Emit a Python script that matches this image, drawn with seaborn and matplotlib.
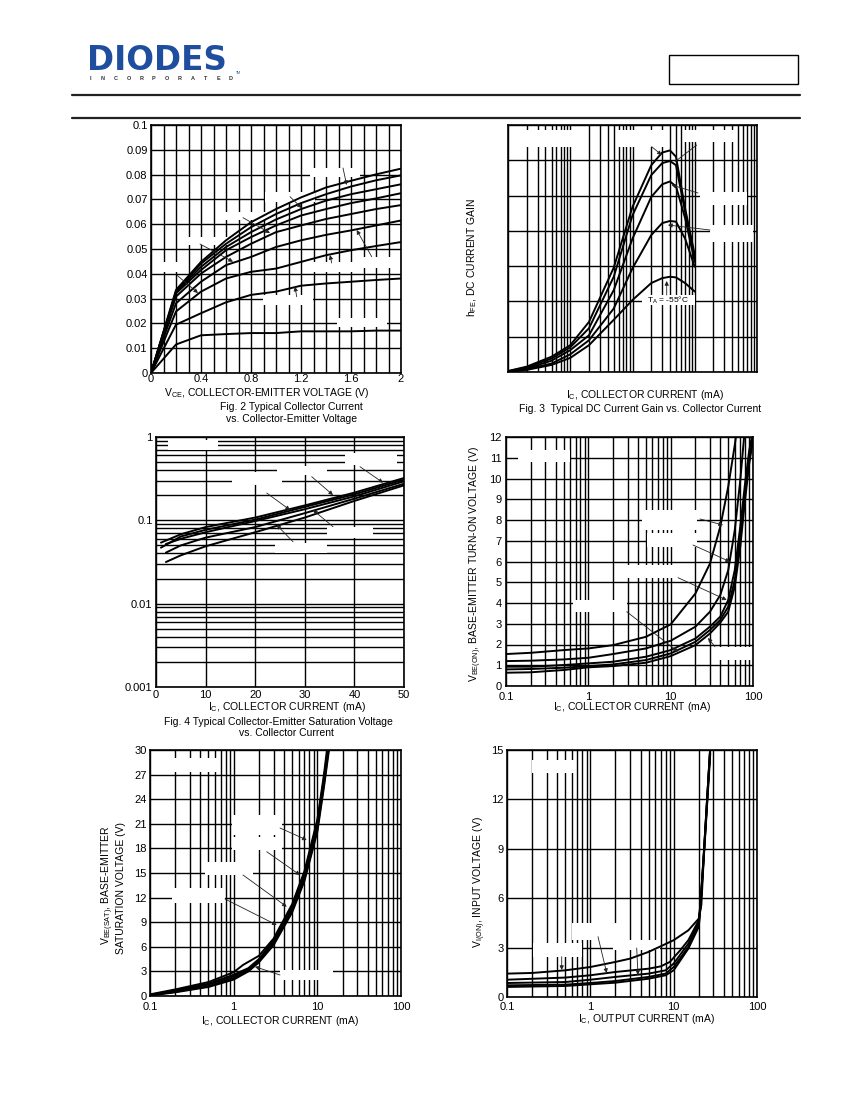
import numpy as np
import pandas as pd
import matplotlib
matplotlib.use("Agg")
import matplotlib.pyplot as plt
from matplotlib.patches import Rectangle
from matplotlib.lines import Line2D
from matplotlib.ticker import MultipleLocator, FixedLocator, NullFormatter
import seaborn as sns

# ---------------- data ----------------
# Fig. 2  Ic (A) vs Vce (V)
vce_fig2 = [0, 0.2, 0.4, 0.6, 0.8, 1.0, 1.2, 1.4, 1.6, 1.8, 2.0]
ic_fig2 = [
    [0, 0.0335, 0.0448, 0.0535, 0.0608, 0.0661, 0.0708, 0.0748, 0.0775, 0.0801, 0.0824],
    [0, 0.0328, 0.0441, 0.0521, 0.0588, 0.0641, 0.0685, 0.0721, 0.0752, 0.0777, 0.0797],
    [0, 0.0325, 0.0428, 0.0508, 0.0568, 0.0619, 0.0661, 0.0695, 0.0721, 0.0741, 0.0761],
    [0, 0.0321, 0.0415, 0.0495, 0.0548, 0.0595, 0.0635, 0.0661, 0.0685, 0.0704, 0.0725],
    [0, 0.0308, 0.0401, 0.0468, 0.0521, 0.0568, 0.0595, 0.0621, 0.0641, 0.0661, 0.0677],
    [0, 0.0281, 0.0368, 0.0435, 0.0468, 0.0508, 0.0535, 0.0557, 0.0575, 0.0595, 0.0615],
    [0, 0.0248, 0.0328, 0.0381, 0.0408, 0.0421, 0.0448, 0.0475, 0.0495, 0.0512, 0.0528],
    [0, 0.0195, 0.0241, 0.0285, 0.0315, 0.0328, 0.0352, 0.0361, 0.0368, 0.0375, 0.0381],
    [0, 0.0115, 0.0152, 0.0157, 0.0161, 0.0161, 0.0168, 0.0168, 0.0168, 0.0171, 0.0171],
]
ic_fig2_ticks = [0, 0.01, 0.02, 0.03, 0.04, 0.05, 0.06, 0.07, 0.08, 0.09, 0.1]
ic_fig2_labels = ["0", "0.01", "0.02", "0.03", "0.04", "0.05", "0.06",
                  "0.07", "0.08", "0.09", "0.1"]
vce_fig2_ticks = [0, 0.4, 0.8, 1.2, 1.6, 2.0]
vce_fig2_labels = ["0", "0.4", "0.8", "1.2", "1.6", "2"]

# Fig. 3  hFE vs Ic (mA)
ic_fig3 = [0.1, 0.2, 0.5, 1, 2, 5, 10, 20, 30, 40, 50, 70, 100]
hfe_fig3 = [
    [1.4, 7.6, 21.7, 38, 71, 148, 234, 293, 311, 314, 305, 232, 166],
    [1.0, 6.6, 19, 35, 62, 135, 222, 279, 296, 299, 293, 227, 161],
    [0.5, 5, 16, 31, 52, 116, 189, 248, 266, 270, 263, 218, 156],
    [0.5, 4, 12, 25, 45, 90, 147, 194, 211, 214, 213, 189, 149],
    [0, 3, 10, 20, 38, 74, 102, 126, 133, 135, 134, 126, 114],
]

# Fig. 4  Vce(sat) (V) vs Ic (mA)
ic_fig4 = [
    [1, 5, 10, 20, 30, 40, 50],
    [1, 5, 10, 20, 30, 40, 50],
    [2, 5, 10, 20, 30, 40, 50],
    [2, 5, 10, 20, 30, 40, 50],
    [2, 5, 10, 20, 30, 40, 50],
]
vsat_fig4 = [
    [0.054, 0.068, 0.083, 0.108, 0.151, 0.215, 0.322],
    [0.047, 0.064, 0.077, 0.102, 0.145, 0.205, 0.308],
    [0.052, 0.060, 0.072, 0.098, 0.136, 0.194, 0.294],
    [0.041, 0.050, 0.062, 0.083, 0.122, 0.182, 0.275],
    [0.0316, 0.038, 0.0488, 0.072, 0.108, 0.171, 0.263],
]

# Fig. 5  Vbe(on) (V) vs Ic (mA)
ic_fig5 = [
    [0.1, 0.2, 0.5, 1, 2, 5, 10, 20, 30, 40, 50, 60, 66],
    [0.1, 0.2, 0.5, 1, 2, 5, 10, 20, 30, 40, 50, 60, 70, 80],
    [0.1, 0.2, 0.5, 1, 2, 5, 10, 20, 30, 40, 50, 60, 70, 80, 90, 100],
    [0.1, 0.2, 0.5, 1, 2, 5, 10, 20, 30, 40, 50, 60, 70, 80, 90, 100],
    [0.1, 0.2, 0.5, 1, 2, 5, 10, 20, 30, 40, 50, 60, 70, 80, 90, 100],
]
vbe_fig5 = [
    [1.54, 1.6, 1.73, 1.81, 1.97, 2.37, 2.97, 4.46, 5.9, 7.67, 9.6, 11.6, 12.8],
    [1.2, 1.22, 1.28, 1.36, 1.54, 1.81, 2.18, 2.86, 3.58, 4.38, 5.58, 7.5, 9.9, 12.5],
    [0.93, 0.93, 1.01, 1.09, 1.17, 1.41, 1.73, 2.29, 2.86, 3.34, 4.14, 5.58, 7.67, 9.75, 11.36, 12.3],
    [0.8, 0.82, 0.88, 0.96, 1.04, 1.25, 1.57, 2.13, 2.7, 3.18, 3.82, 5.1, 7.19, 9.27, 10.88, 12.0],
    [0.64, 0.66, 0.77, 0.9, 0.96, 1.12, 1.44, 1.97, 2.53, 3.05, 3.58, 4.78, 6.7, 8.95, 10.72, 11.84],
]

# Fig. 6  Vbe(sat) (V) vs Ic (mA)
ic_fig6 = [
    [0.1, 0.2, 0.5, 1, 1.3, 2, 3, 5, 7, 10, 12, 13.2],
    [0.1, 0.2, 0.5, 1, 1.5, 2, 3, 5, 7, 10, 12, 13.5],
    [0.1, 0.2, 0.5, 1, 1.5, 2, 3, 5, 7, 10, 12, 13.6],
    [0.1, 0.2, 0.5, 1, 1.5, 2, 3, 5, 7, 10, 12, 13.8],
    [0.1, 0.2, 0.5, 1, 1.5, 2, 3, 5, 7, 10, 12, 14],
]
vsat_fig6 = [
    [0.2, 0.8, 1.7, 2.9, 3.8, 4.9, 7.0, 11.2, 15.2, 21.5, 27.0, 30.5],
    [0.15, 0.7, 1.5, 2.6, 3.4, 4.5, 6.8, 11.0, 14.9, 21.2, 26.6, 30.5],
    [0.1, 0.6, 1.4, 2.4, 3.3, 4.3, 6.6, 10.7, 14.5, 20.8, 26.2, 30.5],
    [0.1, 0.5, 1.2, 2.2, 3.1, 4.2, 6.4, 10.4, 14.2, 20.4, 25.8, 30.5],
    [0.05, 0.45, 1.1, 2.0, 3.0, 4.1, 6.2, 10.2, 14.0, 20.0, 25.5, 30.5],
]

# Fig. 7  Vi(on) (V) vs Io (mA)
ic_fig7 = [
    [0.1, 0.2, 0.5, 1, 2, 3, 5, 7, 10, 15, 20, 21.5, 23.5, 27.5],
    [0.1, 0.5, 1, 2, 5, 7, 9, 12, 15, 20, 21, 23.5, 27.5],
    [0.1, 0.5, 1, 2, 5, 8, 10, 15, 20, 21, 23.5, 27.5],
    [0.1, 0.5, 1, 2, 5, 8, 10, 15, 20, 21, 23.5, 27.5],
    [0.1, 0.5, 1, 2, 5, 8, 10, 15, 20, 21, 23.5, 27.5],
]
vin_fig7 = [
    [1.42, 1.46, 1.62, 1.82, 2.13, 2.33, 2.74, 3.08, 3.45, 4.05, 4.76, 5.6, 9.5, 15.2],
    [1.05, 1.18, 1.32, 1.52, 1.72, 1.86, 2.13, 2.84, 3.45, 4.66, 5.68, 9.5, 15.2],
    [0.85, 0.91, 1.05, 1.22, 1.42, 1.62, 2.03, 3.24, 4.56, 5.68, 9.4, 15.2],
    [0.71, 0.75, 0.85, 0.97, 1.22, 1.42, 1.82, 3.04, 4.36, 5.57, 9.3, 15.0],
    [0.61, 0.67, 0.77, 0.87, 1.11, 1.32, 1.62, 2.94, 4.26, 5.47, 9.2, 14.8],
]

log_ticks = [0.1, 1, 10, 100]
log_labels = ["0.1", "1", "10", "100"]

# ---------------- page layout (pixels on the 850x1100 page) ----------------
W, H = 850, 1100
BLUE = "#1f4e9e"


def fpos(x, y):
    return x / W, 1 - y / H


def to_long(xs_list, ys_list):
    rows = []
    for k, (xs, ys) in enumerate(zip(xs_list, ys_list)):
        for x, y in zip(xs, ys):
            rows.append((k, x, y))
    return pd.DataFrame(rows, columns=["curve", "x", "y"])


sns.set_theme(style="white")
plt.rcParams["font.family"] = ["Liberation Sans", "DejaVu Sans"]
plt.rcParams["mathtext.fontset"] = "custom"
plt.rcParams["mathtext.rm"] = "Liberation Sans"
plt.rcParams["mathtext.it"] = "Liberation Sans:italic"
plt.rcParams["mathtext.bf"] = "Liberation Sans:bold"

fig = plt.figure(figsize=(8.5, 11), dpi=100)
fig.patch.set_facecolor("white")


def panel(box):
    x0, y0, x1, y1 = box
    return fig.add_axes([x0 / W, 1 - y1 / H, (x1 - x0) / W, (y1 - y0) / H])


def style(ax, xpad=1.5, ypad=2.5):
    ax.set_facecolor("white")
    ax.tick_params(which="both", length=0, labelsize=8, colors="black")
    ax.tick_params(axis="x", pad=xpad)
    ax.tick_params(axis="y", pad=ypad)
    for s in ax.spines.values():
        s.set_color("black")
        s.set_linewidth(1.2)
    ax.grid(True, which="both", color="black", linewidth=1.0)
    ax.set_axisbelow(True)
    ax.set_xlabel("")
    ax.set_ylabel("")


def draw(ax, xs_list, ys_list):
    sns.lineplot(data=to_long(xs_list, ys_list), x="x", y="y", units="curve",
                 estimator=None, sort=False, color="black", linewidth=1.4, ax=ax)


def masks(ax, boxes):
    for x0, y0, x1, y1 in boxes:
        fx, fy = fpos(x0, y1)
        ax.add_patch(Rectangle((fx, fy), (x1 - x0) / W, (y1 - y0) / H,
                               transform=fig.transFigure, facecolor="white",
                               edgecolor="none", zorder=1.5))


def arrows(ax, segs, head=True):
    for x0, y0, x1, y1 in segs:
        ax.annotate("", xy=fpos(x1, y1), xytext=fpos(x0, y0),
                    xycoords="figure fraction", textcoords="figure fraction",
                    arrowprops=dict(arrowstyle="-|>" if head else "-", lw=0.6,
                                    color="#222222", mutation_scale=6,
                                    shrinkA=0, shrinkB=0),
                    annotation_clip=False)


def ftext(x, y, s, **kw):
    kw.setdefault("fontsize", 7.5)
    kw.setdefault("ha", "center")
    kw.setdefault("va", "center")
    fig.text(x / W, 1 - y / H, s, color="black", **kw)


def log_x(ax):
    ax.set_xscale("log")
    ax.set_xlim(0.1, 100)
    ax.xaxis.set_major_locator(FixedLocator(log_ticks))
    ax.set_xticklabels(log_labels)
    ax.xaxis.set_minor_formatter(NullFormatter())


# ---------------- header ----------------
fig.text(87 / W, 1 - 70 / H, "DIODES", fontsize=23.5, fontweight="bold",
         family="DejaVu Sans", color=BLUE, ha="left", va="baseline")
fig.add_artist(Line2D([92 / W, 168 / W], [1 - 58 / H] * 2, color="white", lw=1.0))
for i, ch in enumerate("INCORPORATED"):
    fig.text((90 + i * 12.8) / W, 1 - 79 / H, ch, fontsize=4, fontweight="bold",
             color="#333333", ha="center", va="center")
fig.text(238 / W, 1 - 74 / H, "TM", fontsize=2.5, color=BLUE, ha="center")
fig.add_artist(Rectangle(fpos(669, 84), 129 / W, 29 / H, transform=fig.transFigure,
                         facecolor="none", edgecolor="black", lw=1.0))
for yy in (94.5, 117.5):
    fig.add_artist(Line2D([72 / W, 800 / W], [1 - yy / H] * 2, color="#222222", lw=1.6))

# ---------------- Fig. 2 ----------------
ax2 = panel((151, 125, 401, 373))
draw(ax2, [vce_fig2] * len(ic_fig2), ic_fig2)
ax2.set_xlim(0, 2)
ax2.set_ylim(0, 0.1)
ax2.xaxis.set_major_locator(FixedLocator(vce_fig2_ticks))
ax2.set_xticklabels(vce_fig2_labels)
ax2.xaxis.set_minor_locator(MultipleLocator(0.1))
ax2.yaxis.set_major_locator(FixedLocator(ic_fig2_ticks))
ax2.set_yticklabels(ic_fig2_labels)
style(ax2, xpad=1.0)
masks(ax2, [(310, 168, 360, 177), (265, 192, 315, 202), (217, 212, 267, 220),
            (178, 237, 228, 245), (161, 262, 178, 272), (263, 295, 313, 305),
            (308, 262, 357, 272), (353, 257, 400, 268), (337, 318, 387, 327)])
arrows(ax2, [(343, 168, 346.7, 185), (290, 196.7, 301.7, 208), (243, 217.7, 270, 233),
             (200, 244, 233, 261.7), (176.7, 275, 198, 293), (296.7, 296.7, 295, 286.7),
             (331.7, 263, 330, 255), (371.7, 256.7, 356.7, 230)])
ftext(267, 393, r"V$_{\mathrm{CE}}$, COLLECTOR-EMITTER VOLTAGE (V)")
ftext(291, 407.5, "Fig. 2 Typical Collector Current")
ftext(292, 419, "vs. Collector-Emitter Voltage")

# ---------------- Fig. 3 ----------------
ax3 = panel((508, 125, 757, 372))
draw(ax3, [ic_fig3] * len(hfe_fig3), hfe_fig3)
ax3.set_xscale("log")
ax3.set_xlim(0.1, 1000)
ax3.set_ylim(0, 350)
ax3.yaxis.set_major_locator(MultipleLocator(50))
ax3.xaxis.set_major_formatter(NullFormatter())
ax3.xaxis.set_minor_formatter(NullFormatter())
ax3.yaxis.set_major_formatter(NullFormatter())
style(ax3)
masks(ax3, [(510, 130, 573, 147), (617, 130, 667, 147), (683, 130, 737, 142),
            (700, 192, 747, 205), (710, 225, 753, 242), (642, 295, 695, 305)])
arrows(ax3, [(651.7, 146.7, 661.7, 155), (698, 193, 671.7, 185),
             (710, 230, 668, 225), (666.7, 295, 666.7, 281)])
arrows(ax3, [(696.7, 145, 675, 161.7)], head=False)
ftext(668, 300, r"T$_{\mathrm{A}}$ = -55°C", fontsize=6, zorder=5)
ftext(645, 395, r"I$_{\mathrm{C}}$, COLLECTOR CURRENT (mA)")
ftext(640, 408.5, "Fig. 3  Typical DC Current Gain vs. Collector Current")
ftext(472, 257, r"h$_{\mathrm{FE}}$, DC CURRENT GAIN", rotation=90)

# ---------------- Fig. 4 ----------------
ax4 = panel((156, 437, 404, 687))
draw(ax4, ic_fig4, vsat_fig4)
ax4.set_yscale("log")
ax4.set_xlim(0, 50)
ax4.set_ylim(0.001, 1)
ax4.xaxis.set_major_locator(MultipleLocator(10))
ax4.yaxis.set_major_locator(FixedLocator([0.001, 0.01, 0.1, 1]))
ax4.set_yticklabels(["0.001", "0.01", "0.1", "1"])
ax4.yaxis.set_minor_formatter(NullFormatter())
style(ax4, xpad=2.5)
masks(ax4, [(168, 440, 218, 450), (232, 472, 282, 485), (277, 466, 327, 475),
            (345, 453, 397, 465), (275, 543, 327, 553), (327, 527, 373, 538)])
arrows(ax4, [(266.7, 493, 290, 510), (311.7, 476.7, 333, 495), (360, 466.7, 383, 482.7),
             (293, 541.7, 276.7, 525), (333, 526.7, 313, 510)])
ftext(287, 707.5, r"I$_{\mathrm{C}}$, COLLECTOR CURRENT (mA)")
ftext(278, 722, "Fig. 4 Typical Collector-Emitter Saturation Voltage")
ftext(286, 733.5, "vs. Collector Current")

# ---------------- Fig. 5 ----------------
ax5 = panel((506, 437, 753, 686))
draw(ax5, ic_fig5, vbe_fig5)
log_x(ax5)
ax5.set_ylim(0, 12)
ax5.yaxis.set_major_locator(MultipleLocator(1))
style(ax5, xpad=4.0, ypad=3.0)
masks(ax5, [(518, 450, 570, 462), (642, 510, 697, 530), (647, 533, 697, 547),
            (617, 565, 677, 578), (573, 600, 627, 612), (718, 647, 755, 660)])
arrows(ax5, [(700, 519, 723, 525), (693, 545, 730, 561.7), (678, 577.7, 726.7, 600),
             (626.7, 611.7, 678, 651.7), (715, 646.7, 708, 638)])
ftext(632, 707.5, r"I$_{\mathrm{C}}$, COLLECTOR CURRENT (mA)")
ftext(476, 564, r"V$_{\mathrm{BE(ON)}}$, BASE-EMITTER TURN-ON VOLTAGE (V)", rotation=90)

# ---------------- Fig. 6 ----------------
ax6 = panel((150, 750, 401, 996))
draw(ax6, ic_fig6, vsat_fig6)
log_x(ax6)
ax6.set_ylim(0, 30)
ax6.yaxis.set_major_locator(MultipleLocator(3))
style(ax6, xpad=4.5)
masks(ax6, [(167, 758, 217, 772), (232, 815, 282, 835), (232, 837, 282, 850),
            (205, 862, 253, 875), (172, 888, 225, 903), (280, 970, 333, 980)])
arrows(ax6, [(280, 828, 306.7, 840), (266.7, 851.7, 300, 875), (243, 875, 286.7, 906.7),
             (225, 899, 276.7, 925), (280, 975, 255, 966.7)])
ftext(280, 1021, r"I$_{\mathrm{C}}$, COLLECTOR CURRENT (mA)")
ftext(108, 885, r"V$_{\mathrm{BE(SAT)}}$, BASE-EMITTER", rotation=90)
ftext(121, 888, "SATURATION VOLTAGE (V)", rotation=90)

# ---------------- Fig. 7 ----------------
ax7 = panel((507, 750, 757, 997))
draw(ax7, ic_fig7, vin_fig7)
log_x(ax7)
ax7.set_ylim(0, 15)
ax7.yaxis.set_major_locator(MultipleLocator(3))
style(ax7, xpad=3.5)
masks(ax7, [(532, 760, 575, 773), (572, 923, 617, 940), (533, 943, 582, 957),
            (613, 940, 660, 950)])
arrows(ax7, [(598, 936.7, 606.7, 973), (561.7, 956.7, 561.7, 970),
             (636.7, 948, 638, 975)])
ftext(647, 1019, r"I$_{\mathrm{C}}$, OUTPUT CURRENT (mA)")
ftext(480, 882, r"V$_{\mathrm{I(ON)}}$, INPUT VOLTAGE (V)", rotation=90)

fig.savefig("out.png", dpi=100, facecolor="white")
